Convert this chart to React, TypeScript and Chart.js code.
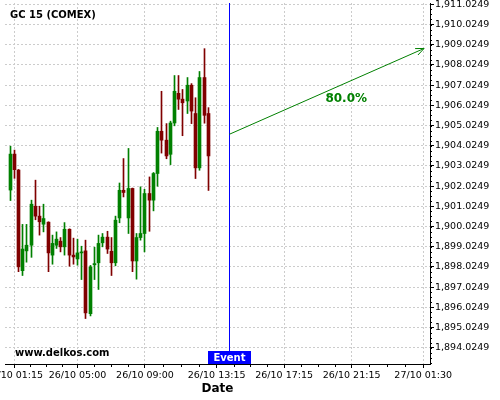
import React, { useEffect, useRef } from "react";
import { Chart, registerables } from "chart.js";

Chart.register(...registerables);

// ---- data ----
const candleTimes = [
  "26/10 01:00", "26/10 01:15", "26/10 01:30", "26/10 01:45",
  "26/10 02:00", "26/10 02:15", "26/10 02:30", "26/10 02:45",
  "26/10 03:00", "26/10 03:15", "26/10 03:30", "26/10 03:45",
  "26/10 04:00", "26/10 04:15", "26/10 04:30", "26/10 04:45",
  "26/10 05:00", "26/10 05:15", "26/10 05:30", "26/10 05:45",
  "26/10 06:00", "26/10 06:15", "26/10 06:30", "26/10 06:45",
  "26/10 07:00", "26/10 07:15", "26/10 07:30", "26/10 07:45",
  "26/10 08:00", "26/10 08:15", "26/10 08:30", "26/10 08:45",
  "26/10 09:00", "26/10 09:15", "26/10 09:30", "26/10 09:45",
  "26/10 10:00", "26/10 10:15", "26/10 10:30", "26/10 10:45",
  "26/10 11:00", "26/10 11:15", "26/10 11:30", "26/10 11:45",
  "26/10 12:00", "26/10 12:15", "26/10 12:30", "26/10 12:45",
];
const opens = [
  1901.83, 1903.61, 1902.82, 1897.84, 1898.82, 1899.10, 1901.03, 1900.54, 1900.14, 1900.24,
  1898.61, 1899.10, 1899.30, 1899.02, 1899.89, 1898.61, 1898.42, 1898.72, 1898.82, 1895.71,
  1898.13, 1898.23, 1899.22, 1899.50, 1898.80, 1898.23, 1900.45, 1901.82, 1900.45, 1901.91,
  1898.32, 1899.48, 1899.68, 1901.66, 1901.33, 1902.65, 1904.74, 1904.30, 1903.60, 1905.15,
  1906.62, 1906.33, 1906.24, 1907.02, 1905.62, 1902.93, 1907.40, 1905.62,
];
const highs = [
  1904.00, 1903.81, 1902.85, 1900.13, 1900.13, 1901.33, 1902.32, 1901.03, 1901.13, 1900.26,
  1899.60, 1899.76, 1899.48, 1900.22, 1899.91, 1899.45, 1899.40, 1899.05, 1899.35, 1898.10,
  1899.00, 1899.60, 1899.68, 1899.79, 1899.48, 1900.54, 1902.18, 1903.39, 1903.89, 1901.93,
  1899.68, 1901.99, 1901.87, 1902.48, 1902.70, 1904.93, 1906.72, 1905.12, 1905.24, 1907.50,
  1907.50, 1906.81, 1907.40, 1907.10, 1906.40, 1907.70, 1908.83, 1905.91,
];
const lows = [
  1901.31, 1902.41, 1897.79, 1897.60, 1898.26, 1898.50, 1900.36, 1899.60, 1899.76, 1897.79,
  1898.16, 1898.94, 1898.77, 1898.61, 1898.06, 1898.16, 1898.11, 1897.40, 1895.47, 1895.60,
  1897.40, 1896.91, 1899.02, 1898.69, 1897.60, 1898.08, 1900.21, 1901.49, 1899.68, 1897.79,
  1897.42, 1899.35, 1898.77, 1899.79, 1900.80, 1902.02, 1903.66, 1903.38, 1903.09, 1905.01,
  1905.82, 1904.52, 1905.62, 1905.12, 1902.40, 1902.81, 1905.14, 1901.81,
];
const closes = [
  1903.61, 1902.84, 1898.03, 1898.91, 1899.10, 1901.13, 1900.54, 1900.26, 1900.42, 1898.72,
  1899.19, 1899.40, 1899.02, 1899.89, 1898.61, 1898.52, 1898.72, 1898.77, 1895.75, 1898.03,
  1898.19, 1899.19, 1899.50, 1898.91, 1898.23, 1900.34, 1901.82, 1901.71, 1901.91, 1898.32,
  1899.48, 1899.68, 1901.66, 1901.33, 1902.65, 1904.74, 1904.30, 1903.52, 1905.15, 1906.72,
  1906.33, 1906.15, 1907.02, 1905.74, 1902.93, 1907.40, 1905.53, 1903.52,
];
const xTickLabels = [
  "26/10 01:15", "26/10 05:00", "26/10 09:00", "26/10 13:15",
  "26/10 17:15", "26/10 21:15", "27/10 01:30",
];
const yTickValues = [
  1894.0249, 1895.0249, 1896.0249, 1897.0249, 1898.0249, 1899.0249,
  1900.0249, 1901.0249, 1902.0249, 1903.0249, 1904.0249, 1905.0249,
  1906.0249, 1907.0249, 1908.0249, 1909.0249, 1910.0249, 1911.0249,
];
const xRange = ["26/10 00:42", "27/10 01:54"];
const yRange = [1893.22, 1911.09];
const eventTime = "26/10 14:00";
const eventLabel = "Event";
const arrowTimes = ["26/10 14:00", "27/10 01:33"];
const arrowPrices = [1904.59, 1908.84];
const forecastLabel = "80.0%";
const forecastLabelTime = "26/10 20:56";
const forecastLabelPrice = 1906.33;
const chartTitle = "GC 15 (COMEX)";
const watermark = "www.delkos.com";
const xAxisTitle = "Date";

// ---- helpers ----
const toHours = (s: string) => {
  const [d, hm] = s.split(" ");
  const day = Number(d.split("/")[0]);
  const [h, m] = hm.split(":").map(Number);
  return (day - 26) * 24 + h + m / 60;
};
const fmtPrice = (v: number) =>
  v.toLocaleString("en-US", { minimumFractionDigits: 4, maximumFractionDigits: 4 });

const GREEN = "#008000";
const RED = "#800000";
const FONT = "DejaVu Sans";

export default function App() {
  const ref = useRef<HTMLCanvasElement | null>(null);

  useEffect(() => {
    if (!ref.current) return;
    const times = candleTimes.map(toHours);
    const up = closes.map((c, i) => c >= opens[i]);
    const colors = up.map((u) => (u ? GREEN : RED));
    const xTickValues = xTickLabels.map(toHours);

    const snap = {
      id: "snap",
      afterDatasetsUpdate(chart: any) {
        chart.data.datasets.forEach((_d: any, di: number) => {
          const meta = chart.getDatasetMeta(di);
          meta.data.forEach((el: any) => {
            el.x = Math.floor(el.x) + 0.5;
          });
        });
      },
    };

    const overlay = {
      id: "overlay",
      afterDatasetsDraw(chart: any) {
        const { ctx, chartArea, scales } = chart;
        const xs = scales.x;
        const ys = scales.y;
        ctx.save();
        // minor ticks on x
        ctx.strokeStyle = "#000";
        ctx.lineWidth = 1;
        ctx.beginPath();
        for (let i = 0; i < xTickValues.length - 1; i++) {
          const a = xTickValues[i];
          const b = xTickValues[i + 1];
          for (let k = 1; k < 4; k++) {
            const px = Math.round(xs.getPixelForValue(a + ((b - a) * k) / 4)) + 0.5;
            ctx.moveTo(px, chartArea.bottom);
            ctx.lineTo(px, chartArea.bottom + 3);
          }
        }
        // minor ticks on y
        for (let v = yTickValues[0] - 0.75; v < yRange[1]; v += 0.25) {
          if (v < yRange[0]) continue;
          const py = Math.round(ys.getPixelForValue(v)) + 0.5;
          ctx.moveTo(chartArea.right, py);
          ctx.lineTo(chartArea.right + 2, py);
        }
        ctx.stroke();

        // event line
        const ex = Math.round(xs.getPixelForValue(toHours(eventTime))) + 0.5;
        ctx.strokeStyle = "#0000ff";
        ctx.beginPath();
        ctx.moveTo(ex, chartArea.top);
        ctx.lineTo(ex, chartArea.bottom);
        ctx.stroke();

        // event box
        ctx.font = `bold 10px '${FONT}'`;
        const bw = 43;
        const bh = 13;
        ctx.fillStyle = "#0000ff";
        ctx.fillRect(ex - bw / 2, chartArea.bottom - bh, bw, bh);
        ctx.fillStyle = "#ffffff";
        ctx.textAlign = "center";
        ctx.textBaseline = "middle";
        ctx.fillText(eventLabel, ex, chartArea.bottom - bh / 2 + 0.5);

        // arrow
        const x1 = xs.getPixelForValue(toHours(arrowTimes[0]));
        const y1 = ys.getPixelForValue(arrowPrices[0]);
        const x2 = xs.getPixelForValue(toHours(arrowTimes[1]));
        const y2 = ys.getPixelForValue(arrowPrices[1]);
        ctx.strokeStyle = GREEN;
        ctx.lineWidth = 1;
        ctx.beginPath();
        ctx.moveTo(x1, y1);
        ctx.lineTo(x2, y2);
        const ang = Math.atan2(y2 - y1, x2 - x1);
        const hl = 9;
        ctx.moveTo(x2, y2);
        ctx.lineTo(x2 - hl * Math.cos(ang - 0.4), y2 - hl * Math.sin(ang - 0.4));
        ctx.moveTo(x2, y2);
        ctx.lineTo(x2 - hl * Math.cos(ang + 0.4), y2 - hl * Math.sin(ang + 0.4));
        ctx.stroke();

        // forecast label
        ctx.fillStyle = GREEN;
        ctx.font = `bold 12px '${FONT}'`;
        ctx.textAlign = "center";
        ctx.fillText(
          forecastLabel,
          xs.getPixelForValue(toHours(forecastLabelTime)),
          ys.getPixelForValue(forecastLabelPrice)
        );

        // title and watermark
        ctx.fillStyle = "#000";
        ctx.font = `bold 10px '${FONT}'`;
        ctx.textAlign = "left";
        ctx.fillText(chartTitle, 10, 15);
        ctx.fillText(watermark, 15, 353);
        ctx.restore();
      },
    };

    const tickFont = { family: FONT, size: 9.5 };

    const chart = new Chart(ref.current, {
      type: "bar",
      data: {
        datasets: [
          {
            label: "wick",
            data: times.map((t, i) => ({ x: t, y: [lows[i], highs[i]] })) as any,
            backgroundColor: colors,
            borderWidth: 0,
            barThickness: 1,
            grouped: false,
            order: 2,
          } as any,
          {
            label: "body",
            data: times.map((t, i) => ({ x: t, y: [opens[i], closes[i]] })) as any,
            backgroundColor: colors,
            borderWidth: 0,
            barThickness: 3,
            minBarLength: 1,
            grouped: false,
            order: 1,
          } as any,
        ],
      },
      options: {
        responsive: false,
        maintainAspectRatio: false,
        animation: false,
        layout: { padding: { left: 5, top: 3, right: 0, bottom: 0 } },
        plugins: {
          legend: { display: false },
          tooltip: { enabled: false },
          title: { display: false },
        },
        scales: {
          x: {
            type: "linear",
            min: toHours(xRange[0]),
            max: toHours(xRange[1]),
            offset: false,
            grid: {
              color: "#cccccc",
              tickColor: "#000",
              tickLength: 4,
              offset: false,
              lineWidth: 1,
            },
            border: { display: true, color: "#000", width: 1, dash: [2, 2] },
            ticks: {
              font: tickFont,
              color: "#000",
              padding: 2,
              maxRotation: 0,
              autoSkip: false,
              callback: (_v: any, i: number) => xTickLabels[i],
            },
            afterBuildTicks: (s: any) => {
              s.ticks = xTickValues.map((v) => ({ value: v }));
            },
            afterFit: (s: any) => {
              s.paddingLeft = 0;
              s.paddingRight = 0;
              s.height = 36;
            },
            title: {
              display: true,
              text: xAxisTitle,
              color: "#000",
              font: { family: FONT, size: 12, weight: "bold" },
              padding: { top: 0, bottom: 4 },
            },
          } as any,
          y: {
            type: "linear",
            position: "right",
            min: yRange[0],
            max: yRange[1],
            grid: {
              color: "#cccccc",
              tickColor: "#000",
              tickLength: 4,
              lineWidth: 1,
            },
            border: { display: true, color: "#000", width: 1, dash: [2, 2] },
            ticks: {
              font: tickFont,
              color: "#000",
              padding: 1,
              autoSkip: false,
              callback: (v: any) => fmtPrice(Number(v)),
            },
            afterBuildTicks: (s: any) => {
              s.ticks = yTickValues.map((v) => ({ value: v }));
            },
            afterFit: (s: any) => {
              s.paddingTop = 0;
              s.paddingBottom = 0;
              s.width = 70;
            },
          } as any,
        },
      },
      plugins: [snap, overlay],
    });
    return () => chart.destroy();
  }, []);

  return (
    <div style={{ position: "absolute", left: 0, top: 0, width: 500, height: 400 }}>
      <canvas ref={ref} width={500} height={400} />
    </div>
  );
}
